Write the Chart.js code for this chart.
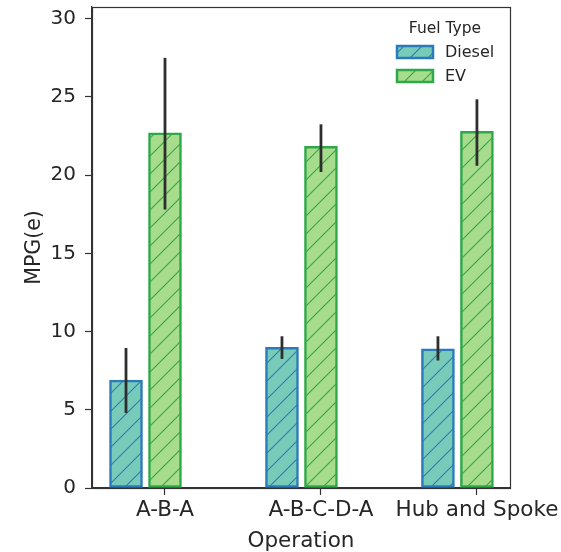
<!DOCTYPE html>
<html>
<head>
<meta charset="utf-8">
<style>
  html, body { margin: 0; padding: 0; background: #fff; }
  #wrap { width: 561px; height: 552px; position: relative; }
</style>
<script src="https://cdn.jsdelivr.net/npm/chart.js@4.4.1/dist/chart.umd.min.js"></script>
</head>
<body>
<div id="wrap"><canvas id="c" width="561" height="552"></canvas></div>
<script>
// ---- data ----
const categories = ['A-B-A', 'A-B-C-D-A', 'Hub and Spoke'];
const seriesNames = ['Diesel', 'EV'];
const dieselMpg  = [6.9, 9.0, 8.9];
const dieselLow  = [4.8, 8.25, 8.15];
const dieselHigh = [8.95, 9.7, 9.7];
const evMpg  = [22.7, 21.85, 22.8];
const evLow  = [17.8, 20.2, 20.6];
const evHigh = [27.5, 23.25, 24.85];
const yTicks = [0, 5, 10, 15, 20, 25, 30];
const legendTitle = 'Fuel Type';
const xTitle = 'Operation';
const yTitle = 'MPG(e)';

// ---- styles ----
const FONT = "'DejaVu Sans', sans-serif";
const styles = [
  { fill: '#78cbb9', line: '#2b7bba', offset: -0.25 },
  { fill: '#a7dc8c', line: '#2fa84a', offset: 0 }
];

function hatch(fill, line) {
  const s = 18;
  const c = document.createElement('canvas');
  c.width = s; c.height = s;
  const g = c.getContext('2d');
  g.fillStyle = fill; g.fillRect(0, 0, s, s);
  g.strokeStyle = line; g.lineWidth = 1.1;
  g.beginPath();
  g.moveTo(-2, s + 2); g.lineTo(s + 2, -2);
  g.moveTo(-2, 2); g.lineTo(2, -2);
  g.moveTo(s - 2, s + 2); g.lineTo(s + 2, s - 2);
  g.stroke();
  return document.getElementById('c').getContext('2d').createPattern(c, 'repeat');
}

const values = [dieselMpg, evMpg];
const lows = [dieselLow, evLow];
const highs = [dieselHigh, evHigh];

const datasets = seriesNames.map((name, k) => ({
  label: name,
  data: categories.map((_, i) => ({ x: i + styles[k].offset, y: values[k][i] })),
  backgroundColor: hatch(styles[k].fill, styles[k].line),
  borderColor: styles[k].line,
  borderWidth: 2.5,
  borderSkipped: false,
  barThickness: 33,
  grouped: false
}));

const errorBars = {
  id: 'errorBars',
  afterDatasetsDraw(chart) {
    const { ctx, scales: { x, y } } = chart;
    ctx.save();
    ctx.strokeStyle = '#2e2e2e';
    ctx.lineWidth = 2.8;
    ctx.lineCap = 'butt';
    seriesNames.forEach((_, k) => {
      categories.forEach((_, i) => {
        const px = x.getPixelForValue(i + styles[k].offset);
        ctx.beginPath();
        ctx.moveTo(px, y.getPixelForValue(lows[k][i]));
        ctx.lineTo(px, y.getPixelForValue(highs[k][i]));
        ctx.stroke();
      });
    });
    ctx.restore();
  }
};

const frame = {
  id: 'frame',
  afterDraw(chart) {
    const { ctx, chartArea: a } = chart;
    ctx.save();
    ctx.strokeStyle = '#333';
    ctx.lineWidth = 1.2;
    ctx.strokeRect(Math.round(a.left) + 0.5, Math.round(a.top) + 0.5,
      Math.round(a.right - a.left), Math.round(a.bottom - a.top));
    // legend
    const lx = 397, tw = 36, th = 12;
    ctx.fillStyle = '#262626';
    ctx.textBaseline = 'middle';
    ctx.textAlign = 'center';
    ctx.font = '15.5px ' + FONT;
    ctx.fillText(legendTitle, 445, 29);
    ctx.textAlign = 'left';
    ctx.font = '16px ' + FONT;
    const rowsY = [52, 76];
    chart.data.datasets.forEach((ds, k) => {
      const cy = rowsY[k];
      ctx.fillStyle = ds.backgroundColor;
      ctx.fillRect(lx, cy - th / 2, tw, th);
      ctx.strokeStyle = ds.borderColor;
      ctx.lineWidth = 2.5;
      ctx.strokeRect(lx, cy - th / 2, tw, th);
      ctx.fillStyle = '#262626';
      ctx.fillText(ds.label, 445, cy + 1);
    });
    ctx.restore();
  }
};

new Chart(document.getElementById('c'), {
  type: 'bar',
  data: { datasets },
  options: {
    responsive: false,
    animation: false,
    devicePixelRatio: 1,
    layout: { padding: { top: 7, right: 51, left: 0, bottom: 0 } },
    plugins: { legend: { display: false }, tooltip: { enabled: false } },
    scales: {
      x: {
        type: 'linear',
        min: -0.468,
        max: 2.212,
        offset: false,
        afterFit(s) { s.height = 64; s.paddingLeft = 0; s.paddingRight = 0; },
        afterBuildTicks(s) { s.ticks = categories.map((_, i) => ({ value: i })); },
        ticks: {
          callback: (v) => categories[v] ?? '',
          font: { family: FONT, size: 21.5 },
          color: '#262626',
          padding: 3,
          maxRotation: 0,
          autoSkip: false
        },
        grid: { offset: false, drawOnChartArea: false, drawTicks: true, tickLength: 7, color: '#333', tickWidth: 1.2 },
        border: { display: true, color: '#333', width: 1.2 },
        title: { display: true, text: xTitle, font: { family: FONT, size: 21.5 }, color: '#262626', padding: { top: 0, bottom: -2 } }
      },
      y: {
        type: 'linear',
        min: 0,
        max: 30.75,
        afterFit(s) { s.width = 92; s.paddingTop = 0; s.paddingBottom = 0; },
        afterBuildTicks(s) { s.ticks = yTicks.map(v => ({ value: v })); },
        ticks: {
          font: { family: FONT, size: 20 },
          color: '#262626',
          padding: 9
        },
        grid: { offset: false, drawOnChartArea: false, drawTicks: true, tickLength: 7, color: '#333', tickWidth: 1.2 },
        border: { display: true, color: '#333', width: 1.2 },
        title: { display: true, text: yTitle, font: { family: FONT, size: 20.5 }, color: '#262626', padding: { top: 22, bottom: 0 } }
      }
    }
  },
  plugins: [errorBars, frame]
});
</script>
</body>
</html>
